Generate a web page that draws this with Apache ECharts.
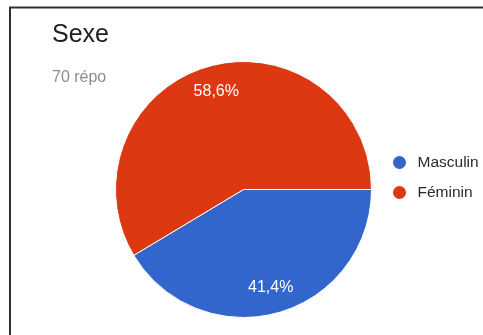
<!DOCTYPE html>
<html>
<head>
<meta charset="utf-8">
<script src="https://cdn.jsdelivr.net/npm/echarts@6/dist/echarts.min.js"></script>
<style>
html,body{margin:0;padding:0;background:#fff;}
#chart{width:483px;height:335px;}
</style>
</head>
<body>
<div id="chart"></div>
<script>
const titleText = 'Sexe';
const subtitleText = '70 répo';
const categories = ['Masculin', 'Féminin'];
const percentValues = [41.4, 58.6];
const sliceColors = ['#3366CC', '#DC3912'];

const pieData = categories.map((name, i) => ({ name: name, value: percentValues[i], itemStyle: { color: sliceColors[i] } }));
const labelData = categories.map((name, i) => ({ name: name, value: percentValues[i] }));

const FONT = "'Liberation Sans', Arial, sans-serif";
const chart = echarts.init(document.getElementById('chart'), null, { renderer: 'canvas' });
chart.setOption({
  backgroundColor: '#ffffff',
  animation: false,
  title: {
    text: titleText,
    subtext: subtitleText,
    left: 47,
    top: 18,
    itemGap: 22,
    textStyle: { fontFamily: FONT, fontSize: 25, fontWeight: 'normal', color: '#202124' },
    subtextStyle: { fontFamily: FONT, fontSize: 16, color: '#8c8c8c' }
  },
  legend: {
    orient: 'vertical',
    left: 386,
    top: 149,
    itemWidth: 20,
    itemHeight: 15,
    itemGap: 13,
    icon: 'circle',
    data: categories.map((name, i) => ({ name: name, itemStyle: { color: sliceColors[i] } })),
    textStyle: { fontFamily: FONT, fontSize: 15.5, color: '#2a2a2a', padding: [0, 0, 0, 3] }
  },
  graphic: [{
    type: 'polyline',
    silent: true,
    shape: { points: [[10, 335], [10, 7.5], [483, 7.5]] },
    style: { stroke: '#2f2f2f', lineWidth: 2, fill: null }
  }],
  series: [{
    type: 'pie',
    silent: true,
    center: [243.5, 189.5],
    radius: [0, 128],
    startAngle: 0,
    clockwise: true,
    label: { show: false },
    labelLine: { show: false },
    itemStyle: { borderColor: '#ffffff', borderWidth: 1 },
    data: pieData
  }, {
    type: 'pie',
    silent: true,
    center: [243.5, 189.5],
    radius: [70, 128],
    startAngle: 0,
    clockwise: true,
    itemStyle: { color: 'rgba(0,0,0,0)', borderWidth: 0 },
    label: {
      show: true,
      position: 'inside',
      color: '#ffffff',
      fontFamily: FONT,
      fontSize: 16,
      formatter: p => p.value.toFixed(1).replace('.', ',') + '%'
    },
    labelLine: { show: false },
    data: labelData
  }]
});
</script>
</body>
</html>
